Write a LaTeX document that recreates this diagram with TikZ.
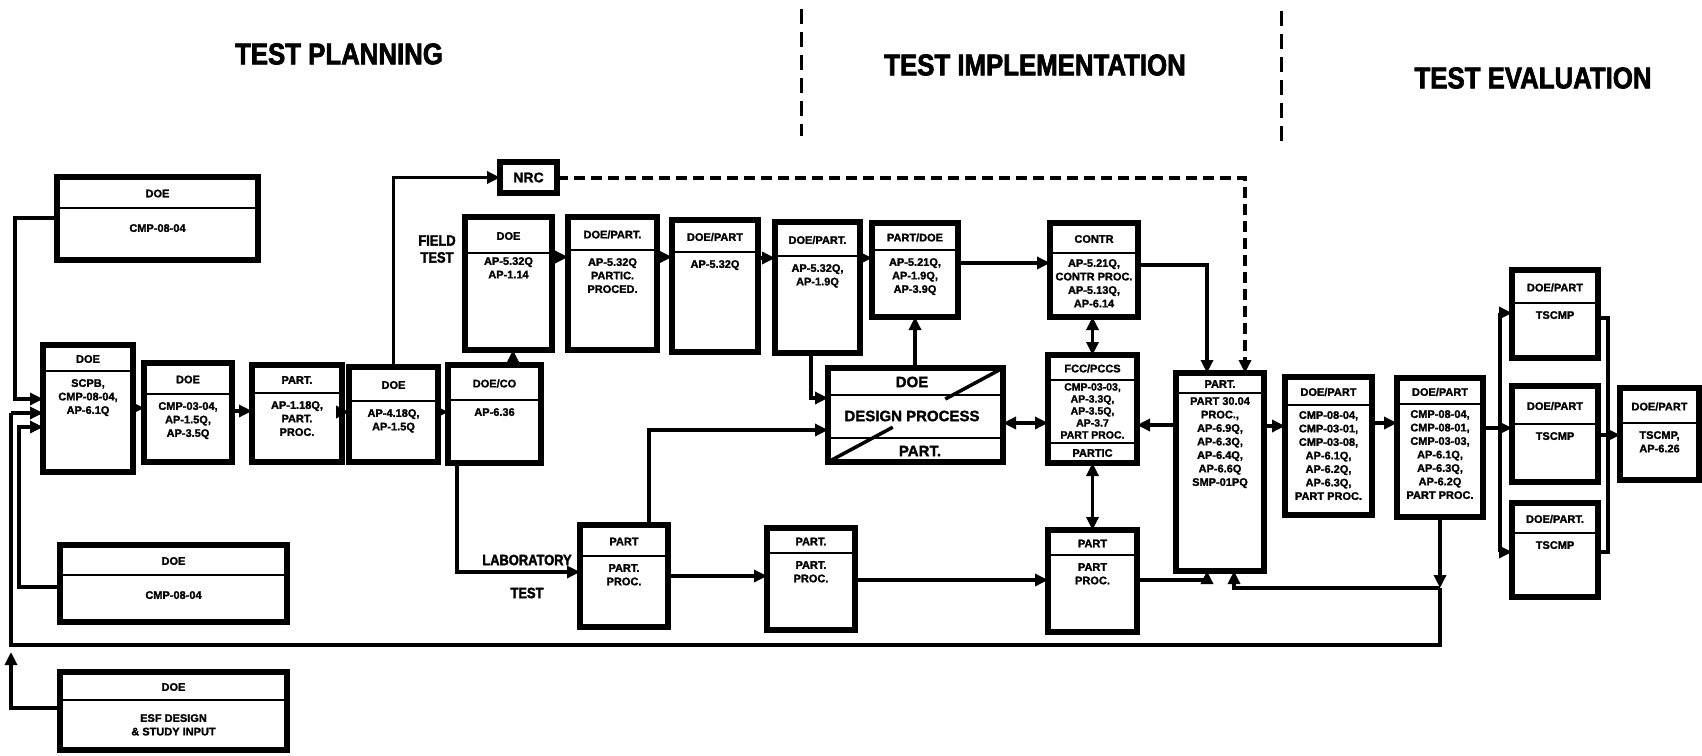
\documentclass[tikz,border=0pt]{standalone}
\usepackage{fontspec}
\usetikzlibrary{arrows.meta,calc}
\newfontfamily\boxfont{Liberation Sans}[BoldFeatures={FakeBold=1.6}]
\newfontfamily\headfont{Liberation Sans}[FakeStretch=0.86, BoldFeatures={FakeBold=2.2}]

\tikzset{
  boxs/.style={draw, line width=5.5pt, inner sep=0pt, outer sep=0pt, line join=miter},
  divl/.style={line width=2.4pt},
  htext/.style={font=\boxfont\bfseries\fontsize{11}{13}\selectfont, inner sep=0pt, align=center},
  btext/.style={font=\boxfont\bfseries\fontsize{11}{13.5}\selectfont, inner sep=0pt, align=center},
  wire/.style={line width=3.4pt, line join=miter},
  tip/.tip={Triangle[length=13pt,width=12pt]},
  arr/.style={wire, -tip},
  darr/.style={wire, tip-tip},
  dashwire/.style={line width=4pt, dash pattern=on 11pt off 6pt, -tip},
  phase/.style={font=\headfont\bfseries\fontsize{30}{30}\selectfont, inner sep=0pt},
  phaseline/.style={line width=3pt, dash pattern=on 15pt off 8pt},
  sidelabel/.style={font=\headfont\bfseries\fontsize{15}{17}\selectfont, inner sep=0pt, align=center}
}

% box with a header strip: [body options]{name}{x1}{y1}{x2}{y2}{divider y}{header}{body}
\newcommand\pbox[9][]{%
  \node[boxs, minimum width={#5-#3}, minimum height={#6-#4}, anchor=north west] (#2) at (#3,#4) {};
  \draw[divl] (#3,#7) -- (#5,#7);
  \node[htext] at ({(#3+#5)/2},{(#4+#7)/2+1}) {#8};
  \node[btext, anchor=north, #1] at ({(#3+#5)/2},{#7+8}) {#9};
}

\begin{document}
\begin{tikzpicture}[x=1pt, y=-1pt]
\useasboundingbox (0,0) rectangle (1702,755);

% phase headings and separators
\node[phase] (hplan) at (339,54) {TEST PLANNING};
\node[phase] (himpl) at (1035,65) {TEST IMPLEMENTATION};
\node[phase] (heval) at (1533,78) {TEST EVALUATION};
\draw[phaseline] (801,9) -- (801,136);
\draw[phaseline] (1281,11) -- (1281,141);

% planning boxes
\pbox[yshift=-8pt]{cmpA}{57}{177}{258}{260}{208}{DOE}{CMP-08-04}
\pbox{scpb}{43}{345}{133}{472}{371}{DOE}{SCPB,\\CMP-08-04,\\AP-6.1Q}
\pbox{cmpC}{144}{363}{232}{462}{394}{DOE}{CMP-03-04,\\AP-1.5Q,\\AP-3.5Q}
\pbox{partA}{252}{365}{342}{462}{393}{PART.}{AP-1.18Q,\\PART.\\PROC.}
\pbox{doeB}{349}{367}{438}{462}{401}{DOE}{AP-4.18Q,\\AP-1.5Q}
\pbox{doeco}{448}{365}{541}{463}{400}{DOE/CO}{AP-6.36}
\pbox[yshift=-8pt]{cmpB}{60}{545}{287}{622}{575}{DOE}{CMP-08-04}
\pbox[yshift=-6pt]{esf}{60}{672}{287}{750}{700}{DOE}{ESF DESIGN\\\& STUDY INPUT}

% field test chain
\node[boxs, minimum width=57, minimum height=31, anchor=north west] (nrc) at (500,162) {};
\node[font=\boxfont\bfseries\fontsize{14}{14}\selectfont, inner sep=0pt] at (nrc.center) {NRC};
\pbox[yshift=4pt]{fdoe}{465}{217}{552}{350}{253}{DOE}{AP-5.32Q\\AP-1.14}
\pbox{dp1}{568}{217}{657}{350}{250}{DOE/PART.}{AP-5.32Q\\PARTIC.\\PROCED.}
\pbox{dp2}{672}{220}{758}{352}{252}{DOE/PART}{AP-5.32Q}
\pbox{dp3}{775}{222}{860}{353}{256}{DOE/PART.}{AP-5.32Q,\\AP-1.9Q}
\pbox{pdoe}{872}{223}{958}{317}{250}{PART/DOE}{AP-5.21Q,\\AP-1.9Q,\\AP-3.9Q}
\node[sidelabel] (field) at (437,249) {FIELD\\TEST};

% design process box
\node[boxs, minimum width=175, minimum height=94, anchor=north west] (design) at (828,368) {};
\draw[divl] (828,395) -- (1003,395);
\draw[divl] (828,438) -- (1003,438);
\draw[line width=3.5pt] (design.south west) -- ($(design.south west)!0.37!(design.north east)$);
\draw[line width=3.5pt] ($(design.south west)!0.67!(design.north east)$) -- (design.north east);
\node[htext, font=\boxfont\bfseries\fontsize{15}{15}\selectfont] at (912,382) {DOE};
\node[htext, font=\boxfont\bfseries\fontsize{15}{15}\selectfont] at (912,416) {DESIGN PROCESS};
\node[htext, font=\boxfont\bfseries\fontsize{15}{15}\selectfont] at (920,451) {PART.};

% implementation boxes
\pbox[yshift=2pt]{contr}{1050}{223}{1138}{317}{253}{CONTR}{AP-5.21Q,\\CONTR PROC.\\AP-5.13Q,\\AP-6.14}
\pbox[font=\boxfont\bfseries\fontsize{10.5}{12}\selectfont, yshift=5pt]{fcc}{1048}{355}{1137}{463}{380}{FCC/PCCS}{CMP-03-03,\\AP-3.3Q,\\AP-3.5Q,\\AP-3.7\\PART PROC.}
\draw[divl] (1048,443) -- (1137,443);
\node[htext] at (1092.5,453) {PARTIC};
\pbox[yshift=4pt]{partbig}{1176}{373}{1264}{571}{393}{PART.}{PART 30.04\\PROC.,\\AP-6.9Q,\\AP-6.3Q,\\AP-6.4Q,\\AP-6.6Q\\SMP-01PQ}

% laboratory test chain
\pbox{lab1}{580}{525}{668}{627}{556}{PART}{PART.\\PROC.}
\pbox{part2}{767}{528}{855}{630}{553}{PART.}{PART.\\PROC.}
\pbox{part3}{1048}{530}{1137}{632}{555}{PART}{PART\\PROC.}
\node[sidelabel] (labl) at (527,560) {LABORATORY};
\node[sidelabel] (labt) at (527,593) {TEST};

% evaluation boxes
\pbox[yshift=2pt]{dpA}{1285}{377}{1372}{515}{405}{DOE/PART}{CMP-08-04,\\CMP-03-01,\\CMP-03-08,\\AP-6.1Q,\\AP-6.2Q,\\AP-6.3Q,\\PART PROC.}
\pbox[yshift=2pt]{dpB}{1397}{378}{1483}{517}{404}{DOE/PART}{CMP-08-04,\\CMP-08-01,\\CMP-03-03,\\AP-6.1Q,\\AP-6.3Q,\\AP-6.2Q\\PART PROC.}
\pbox{ts1}{1512}{270}{1598}{358}{303}{DOE/PART}{TSCMP}
\pbox{ts2}{1512}{386}{1598}{482}{424}{DOE/PART}{TSCMP}
\pbox{ts3}{1512}{503}{1598}{597}{533}{DOE/PART.}{TSCMP}
\pbox{final}{1620}{388}{1699}{480}{423}{DOE/PART}{TSCMP,\\AP-6.26}

% ---- connectors ----
% inputs to the SCPB box
\draw[arr] (cmpA.west |- 0,218) -| (15,399) -- (scpb.west |- 0,399);
\draw[arr] (cmpB.west |- 0,587) -| (19,427) -- (scpb.west |- 0,427);
\draw[arr] (esf.west |- 0,708) -| (11,652);
\coordinate (fbk) at (dpB.south |- 0,588);
\draw[arr] (dpB.south) -- (fbk);
\draw[wire] (fbk) -- (dpB.south |- 0,645) -| (11,413);
\draw[arr] (11,413) -- (scpb.west |- 0,413);

% planning chain
\draw[arr] (scpb.east |- 0,408) -- (cmpC.west |- 0,408);
\draw[arr] (cmpC.east |- 0,411) -- (partA.west |- 0,411);
\draw[arr] (partA.east |- 0,412) -- (doeB.west |- 0,412);
\draw[arr] (doeB.east |- 0,412) -- (doeco.west |- 0,412);
\draw[arr] (doeB.north) |- (nrc.west);
\draw[arr] (doeco.north -| 513,0) -- (fdoe.south -| 513,0);
\draw[arr] (doeco.south -| 457,0) |- (lab1.west |- 0,572);

% field test chain
\draw[arr] (fdoe.east |- 0,257) -- (dp1.west |- 0,257);
\draw[arr] (dp1.east |- 0,257) -- (dp2.west |- 0,257);
\draw[arr] (dp2.east |- 0,258) -- (dp3.west |- 0,258);
\draw[arr] (dp3.east |- 0,258) -- (pdoe.west |- 0,258);
\draw[arr] (dp3.south -| 811,0) |- (design.west |- 0,398);
\draw[arr] (lab1.north -| 649,0) |- (design.west |- 0,430);
\draw[arr] (design.north -| pdoe.south) -- (pdoe.south);
\draw[arr] (pdoe.east |- 0,263) -- (contr.west |- 0,263);
\draw[darr] (design.east |- 0,423) -- (fcc.west |- 0,423);
\draw[darr] (contr.south -| fcc.north) -- (fcc.north);
\draw[arr] (contr.east |- 0,265) -| ([xshift=-13pt]partbig.north);
\draw[dashwire] (nrc.east) -| ([xshift=25pt]partbig.north);
\draw[arr] (partbig.west |- 0,425) -- (fcc.east |- 0,425);
\draw[darr] (fcc.south) -- (part3.north);

% laboratory chain
\draw[arr] (lab1.east |- 0,576) -- (part2.west |- 0,576);
\draw[arr] (part2.east |- 0,580) -- (part3.west |- 0,580);
\draw[arr] (part3.east |- 0,580) -| ([xshift=-13pt]partbig.south);
\draw[arr] (fbk) -| ([xshift=14pt]partbig.south);

% evaluation chain
\draw[arr] (partbig.east |- 0,426) -- (dpA.west |- 0,426);
\draw[arr] (dpA.east |- 0,423) -- (dpB.west |- 0,423);
\coordinate (split) at (1500,428);
\draw[arr] (dpB.east |- 0,428) -- (ts2.west |- 0,428);
\draw[arr] (split) |- (ts1.west |- 0,313);
\draw[arr] (split) |- (ts3.west |- 0,552);
\coordinate (merge) at (1608,435);
\draw[wire] (ts1.east |- 0,318) -| (merge);
\draw[wire] (ts3.east |- 0,552) -| (merge);
\draw[arr] (ts2.east |- 0,435) -- (final.west |- 0,435);
\end{tikzpicture}
\end{document}
